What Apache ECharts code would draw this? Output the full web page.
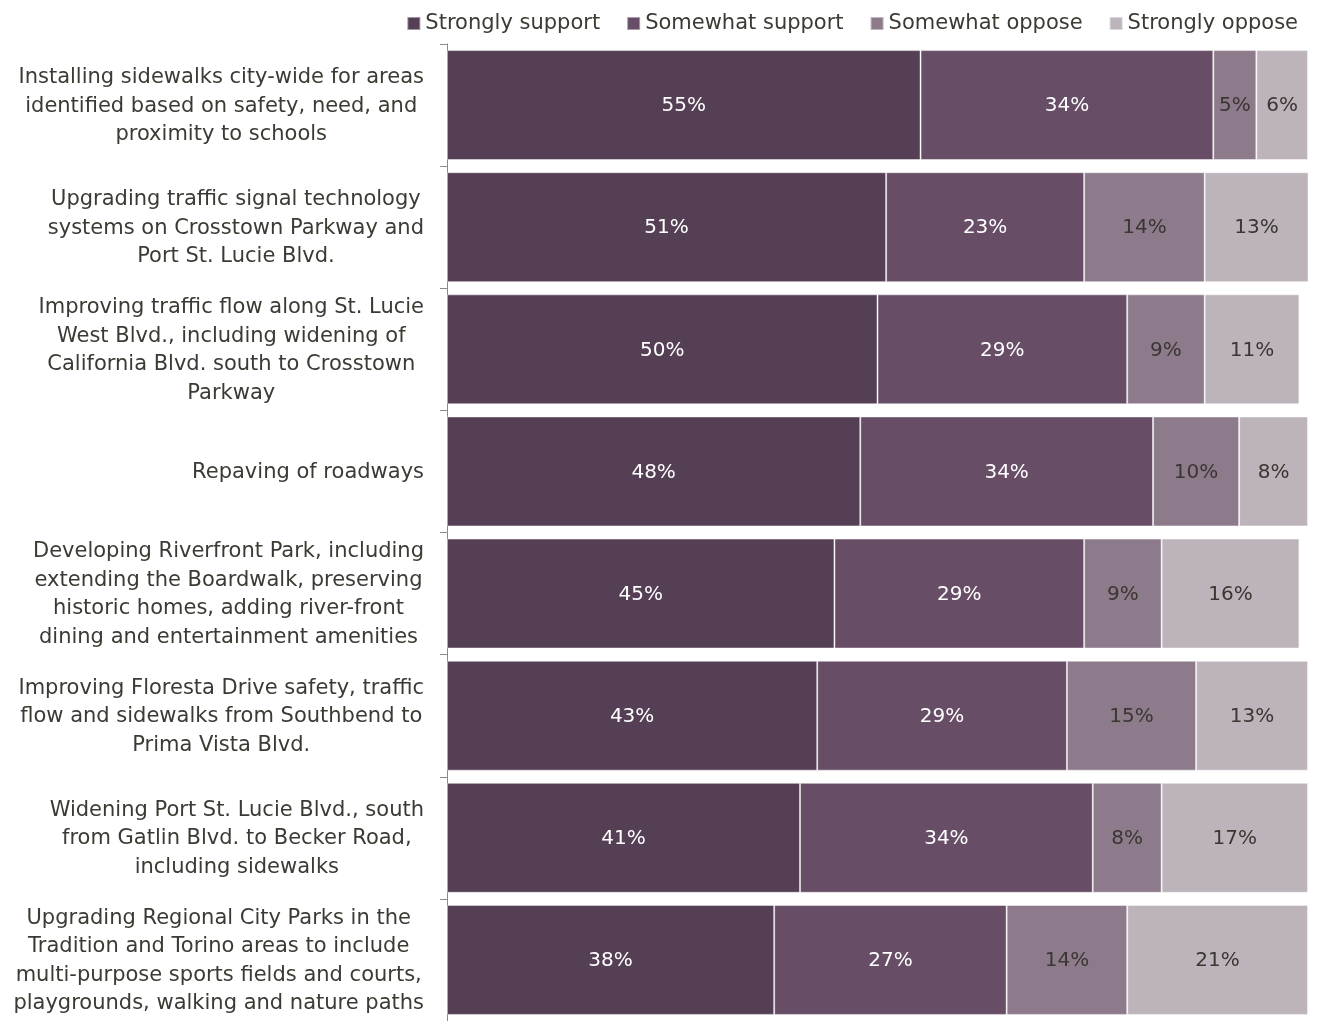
<!DOCTYPE html>
<html>
<head>
<meta charset="utf-8">
<script src="https://cdn.jsdelivr.net/npm/echarts@6/dist/echarts.min.js"></script>
<style>
  html, body { margin: 0; padding: 0; background: #ffffff; }
  #chart { width: 1317px; height: 1021px; }
</style>
</head>
<body>
<div id="chart"></div>
<script>
// Survey items, top to bottom
const categories = [
  'Installing sidewalks city-wide for areas\nidentified based on safety, need, and\nproximity to schools',
  'Upgrading traffic signal technology\nsystems on Crosstown Parkway and\nPort St. Lucie Blvd.',
  'Improving traffic flow along St. Lucie\nWest Blvd., including widening of\nCalifornia Blvd. south to Crosstown\nParkway',
  'Repaving of roadways',
  'Developing Riverfront Park, including\nextending the Boardwalk, preserving\nhistoric homes, adding river-front\ndining and entertainment amenities',
  'Improving Floresta Drive safety, traffic\nflow and sidewalks from Southbend to\nPrima Vista Blvd.',
  'Widening Port St. Lucie Blvd., south\nfrom Gatlin Blvd. to Becker Road,\nincluding sidewalks',
  'Upgrading Regional City Parks in the\nTradition and Torino areas to include\nmulti-purpose sports fields and courts,\nplaygrounds, walking and nature paths'
];

// Percent of respondents per response
const stronglySupport = [55, 51, 50, 48, 45, 43, 41, 38];
const somewhatSupport = [34, 23, 29, 34, 29, 29, 34, 27];
const somewhatOppose  = [5, 14, 9, 10, 9, 15, 8, 14];
const stronglyOppose  = [6, 13, 11, 8, 16, 13, 17, 21];

const seriesNames = ['Strongly support', 'Somewhat support', 'Somewhat oppose', 'Strongly oppose'];
const seriesColors = ['#553f54', '#674d66', '#8d7b8b', '#bdb4bb'];
const labelColors = ['#ffffff', '#ffffff', '#3a3632', '#3a3632'];
const seriesData = [stronglySupport, somewhatSupport, somewhatOppose, stronglyOppose];

const FONT = '"DejaVu Sans", Verdana, sans-serif';

const chart = echarts.init(document.getElementById('chart'), null, { renderer: 'canvas' });

chart.setOption({
  animation: false,
  textStyle: { fontFamily: FONT },
  legend: {
    right: 14,
    top: 8,
    itemWidth: 13,
    itemHeight: 13,
    itemGap: 26,
    icon: 'rect',
    textStyle: { fontSize: 21, color: '#3b3a33', fontFamily: FONT },
    data: seriesNames
  },
  grid: {
    left: 447,
    top: 44,
    width: 861,
    height: 985,
    containLabel: false
  },
  xAxis: {
    type: 'value',
    min: 0,
    max: 100,
    show: false
  },
  yAxis: {
    type: 'category',
    inverse: true,
    data: categories,
    axisLine: { show: true, lineStyle: { color: '#8a8a8a', width: 1 } },
    axisTick: { show: true, length: 7, lineStyle: { color: '#8a8a8a' } },
    axisLabel: {
      margin: 23,
      formatter: function (v) {
        return v.split('\n').map(function (l) { return '{c|' + l + '}'; }).join('\n');
      },
      rich: {
        c: {
          align: 'center',
          fontSize: 21,
          lineHeight: 28.5,
          color: '#3b3a33',
          fontFamily: FONT,
          padding: [2, 0, 0, 0]
        }
      }
    }
  },
  series: seriesData.map(function (d, i) {
    return {
      name: seriesNames[i],
      type: 'bar',
      stack: 'total',
      barCategoryGap: '10%',
      data: d,
      itemStyle: {
        color: seriesColors[i],
        borderColor: 'rgba(255,255,255,0.45)',
        borderWidth: 1
      },
      label: {
        show: true,
        position: 'inside',
        offset: [0, 1],
        formatter: '{c}%',
        fontSize: 20,
        color: labelColors[i],
        fontFamily: FONT
      }
    };
  })
});
</script>
</body>
</html>
